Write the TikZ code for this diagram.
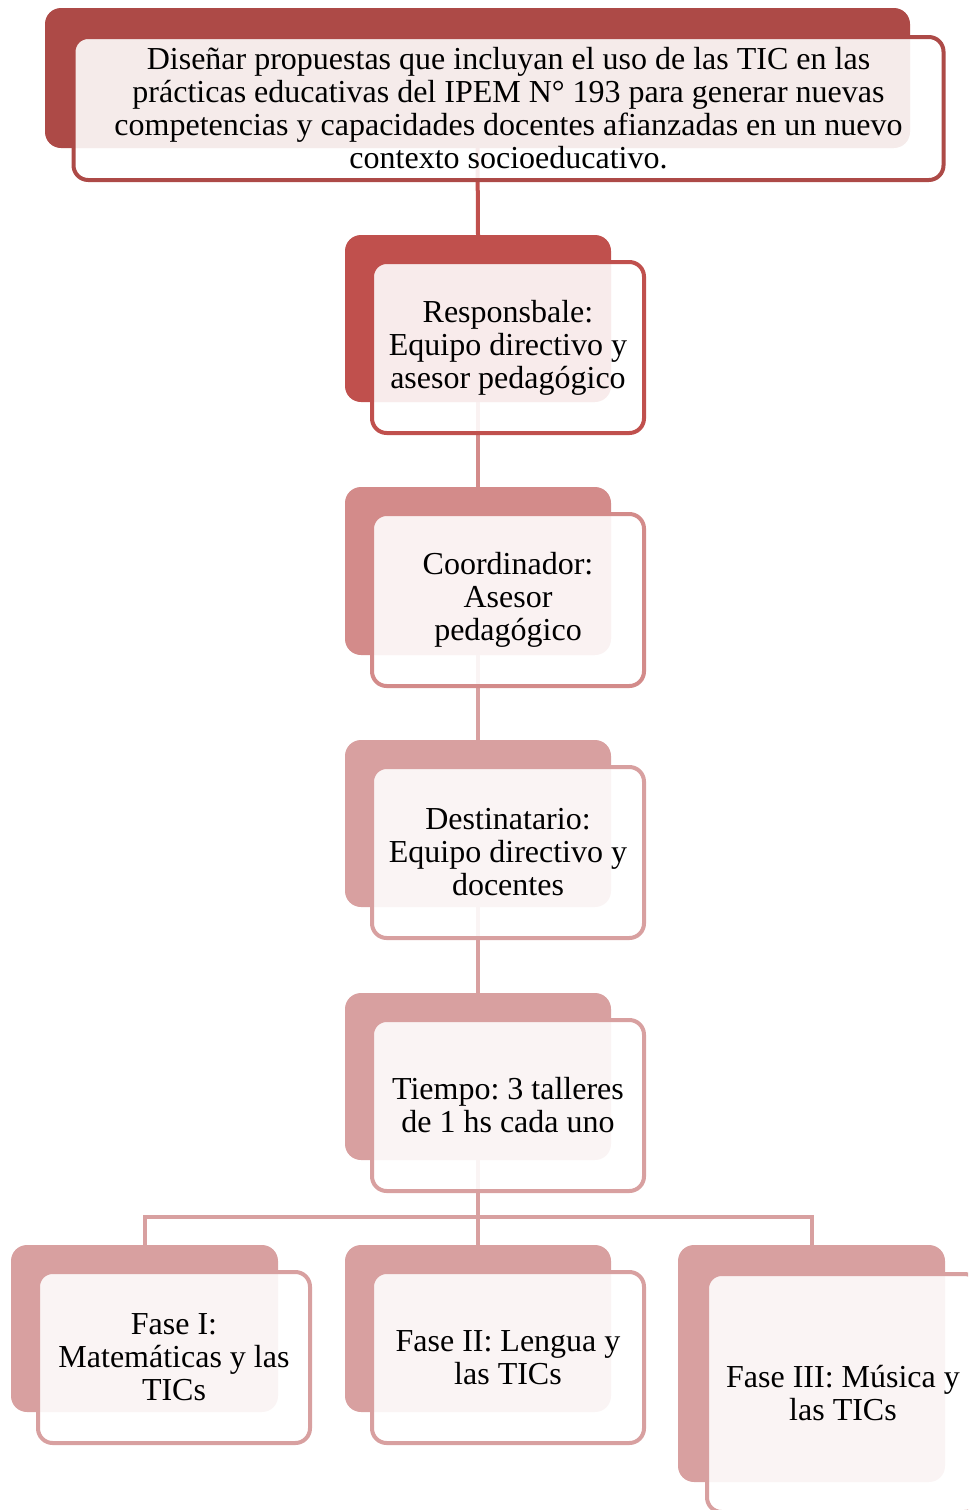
\documentclass[tikz,border=0pt]{standalone}
\usepackage{fontspec}
\setmainfont{Liberation Serif}
\frenchspacing
\pgfdeclarelayer{background}
\pgfsetlayers{background,main}
\definecolor{c0}{HTML}{AD4A47}
\definecolor{c1}{HTML}{C0504D}
\definecolor{c2}{HTML}{D38B8A}
\definecolor{c3}{HTML}{D8A0A0}
\tikzset{
  backbox/.style={rectangle, rounded corners=12pt, inner sep=0pt, outer sep=0pt, draw=none},
  frontbox/.style={rectangle, rounded corners=11pt, inner sep=0pt, outer sep=0pt, line width=3pt,
    fill=white, fill opacity=0.89, text opacity=1, text=black, align=center,
    font=\fontsize{24pt}{24.75pt}\selectfont\frenchspacing},
  conn/.style={line width=3pt}
}
\begin{document}
\begin{tikzpicture}[x=0.75pt,y=-0.75pt]
\useasboundingbox (0,0) rectangle (968,1510);
\clip (0,0) rectangle (968,1510);
% back boxes
\node[backbox, fill=c0, minimum width=648.75pt, minimum height=105pt] (b0) at (477.5,78) {};
\node[backbox, fill=c1, minimum width=199.5pt, minimum height=125.25pt] (b1) at (478,318.5) {};
\node[backbox, fill=c2, minimum width=199.5pt, minimum height=126pt] (b2) at (478,571) {};
\node[backbox, fill=c3, minimum width=199.5pt, minimum height=125.25pt] (b3) at (478,823.5) {};
\node[backbox, fill=c3, minimum width=199.5pt, minimum height=125.25pt] (b4) at (478,1076.5) {};
\node[backbox, fill=c3, minimum width=200.25pt, minimum height=125.25pt] (b5) at (144.5,1328.5) {};
\node[backbox, fill=c3, minimum width=199.5pt, minimum height=125.25pt] (b6) at (478,1328.5) {};
\node[backbox, fill=c3, minimum width=200.25pt, minimum height=177.75pt] (b7) at (811.5,1363.5) {};
% front boxes with text
\node[frontbox, draw=c0, minimum width=652.5pt, minimum height=107.25pt] (f0) at (508.5,108.5)
  {Diseñar propuestas que incluyan el uso de las TIC en las\\
   prácticas educativas del IPEM N° 193 para generar nuevas\\
   competencias y capacidades docentes afianzadas en un nuevo\\
   contexto socioeducativo.};
\node[frontbox, draw=c1, minimum width=204pt, minimum height=128.25pt] (f1) at (508,347.5)
  {Responsbale:\\ Equipo directivo y\\ asesor pedagógico};
\node[frontbox, draw=c2, minimum width=204pt, minimum height=129pt] (f2) at (508,600)
  {Coordinador:\\ Asesor\\ pedagógico};
\node[frontbox, draw=c3, minimum width=204pt, minimum height=128.25pt] (f3) at (508,852.5)
  {Destinatario:\\ Equipo directivo y\\ docentes};
\node[frontbox, draw=c3, minimum width=204pt, minimum height=128.25pt] (f4) at (508,1105.5)
  {Tiempo: 3 talleres\\ de 1 hs cada uno};
\node[frontbox, draw=c3, minimum width=204pt, minimum height=128.25pt] (f5) at (174,1357.5)
  {Fase I:\\ Matemáticas y las\\ TICs};
\node[frontbox, draw=c3, minimum width=204pt, minimum height=128.25pt] (f6) at (508,1357.5)
  {Fase II: Lengua y\\ las TICs};
\node[frontbox, draw=c3, minimum width=204pt, minimum height=178.5pt] (f7) at (843,1393)
  {Fase III: Música y\\ las TICs};
% connectors
\coordinate (j) at (478,1217);
\begin{pgfonlayer}{background}
\draw[conn, draw=c1] (b0.south) -- (b1.north);
\draw[conn, draw=c2] (b1.south) -- (b2.north);
\draw[conn, draw=c3] (b2.south) -- (b3.north);
\draw[conn, draw=c3] (b3.south) -- (b4.north);
\draw[conn, draw=c3] (b4.south) -- (b6.north);
\draw[conn, draw=c3] (b5.north) |- (j) -| (b7.north);
\end{pgfonlayer}
\end{tikzpicture}
\end{document}
